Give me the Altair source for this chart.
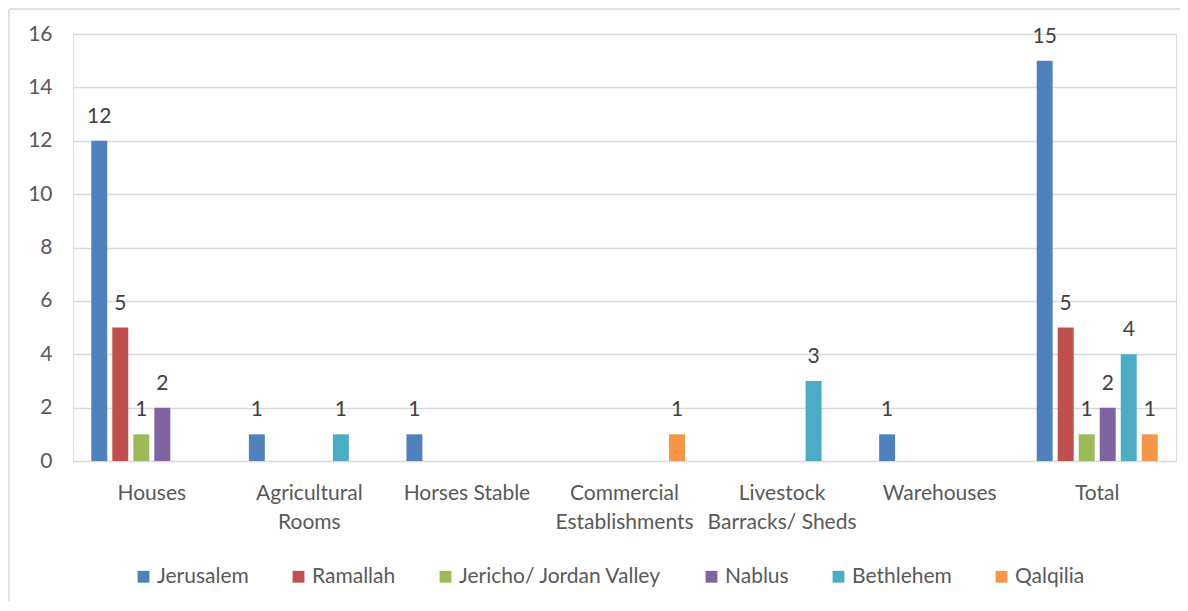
import altair as alt
import pandas as pd

categories = ["Houses", "Agricultural Rooms", "Horses Stable", "Commercial Establishments",
              "Livestock Barracks/ Sheds", "Warehouses", "Total"]
series = ["Jerusalem", "Ramallah", "Jericho/ Jordan Valley", "Nablus", "Bethlehem", "Qalqilia"]
colors = ["#4F81BD", "#C0504D", "#9BBB59", "#8064A2", "#4BACC6", "#F79646"]

jerusalem = [12, 1, 1, None, None, 1, 15]
ramallah = [5, None, None, None, None, None, 5]
jericho = [1, None, None, None, None, None, 1]
nablus = [2, None, None, None, None, None, 2]
bethlehem = [None, 1, None, None, 3, None, 4]
qalqilia = [None, None, None, 1, None, None, 1]

values = [jerusalem, ramallah, jericho, nablus, bethlehem, qalqilia]
rows = []
for s, vals in zip(series, values):
    for c, v in zip(categories, vals):
        if v is not None:
            rows.append({"category": c, "series": s, "value": v})
df = pd.DataFrame(rows)

FONT = "Lato"
W, H = 1103, 427

label_expr = ("indexof(['Agricultural Rooms','Commercial Establishments','Livestock Barracks/ Sheds'], datum.label) >= 0"
              " ? [substring(datum.label, 0, indexof(datum.label, ' ')), substring(datum.label, indexof(datum.label, ' ') + 1)]"
              " : datum.label")

x_enc = alt.X("category:N", sort=categories,
              scale=alt.Scale(domain=categories, paddingInner=0.2, paddingOuter=0.1),
              axis=alt.Axis(title=None, labelAngle=0, labelExpr=label_expr, labelFont=FONT,
                            labelFontSize=21, labelColor="#595959", labelPadding=21,
                            labelLineHeight=29, ticks=False, domain=False, labelBaseline="top",
                            labelLimit=0))
xo_enc = alt.XOffset("series:N", sort=series,
                     scale=alt.Scale(domain=series, paddingInner=0.24, paddingOuter=0.12))
y_enc = alt.Y("value:Q", scale=alt.Scale(domain=[0, 16], nice=False),
              axis=alt.Axis(title=None, values=list(range(0, 17, 2)), labelFont=FONT,
                            labelFontSize=21, labelColor="#595959", labelPadding=21,
                            ticks=False, domain=False, gridColor="#D9D9D9", gridWidth=1.5))

base = alt.Chart(df)

bars = base.mark_bar().encode(
    x=x_enc, xOffset=xo_enc, y=y_enc,
    color=alt.Color("series:N", sort=series,
                    scale=alt.Scale(domain=series, range=colors),
                    legend=alt.Legend(title=None, orient="none", direction="horizontal",
                                      legendX=60, legendY=H + 105, columns=6,
                                      symbolType="square", symbolSize=140, symbolStrokeWidth=0,
                                      labelFont=FONT, labelFontSize=21, labelColor="#595959",
                                      labelLimit=0, columnPadding=39, symbolOffset=0, labelOffset=3))
)

labels = base.mark_text(baseline="alphabetic", dy=-18, font=FONT, fontSize=21, color="#404040").encode(
    x=alt.X("category:N", sort=categories), xOffset=alt.XOffset("series:N", sort=series),
    y=alt.Y("value:Q"), text=alt.Text("value:Q")
)

border_left = alt.Chart(pd.DataFrame({"a": [0]})).mark_rule(color="#D9D9D9", strokeWidth=1.5).encode(
    x=alt.value(-64), y=alt.value(-25), y2=alt.value(H + 150))
border_top = alt.Chart(pd.DataFrame({"a": [0]})).mark_rule(color="#D9D9D9", strokeWidth=1.5).encode(
    x=alt.value(-64), x2=alt.value(W + 10), y=alt.value(-25))

chart = alt.layer(bars, labels, border_left, border_top).properties(
    width=W, height=H,
    autosize=alt.AutoSizeParams(type="none"),
    padding={"left": 65, "top": 26, "right": 4, "bottom": 140},
).configure_view(stroke=None).configure(background="white")

chart.save("out.html", embed_options={"renderer": "svg", "actions": False})
